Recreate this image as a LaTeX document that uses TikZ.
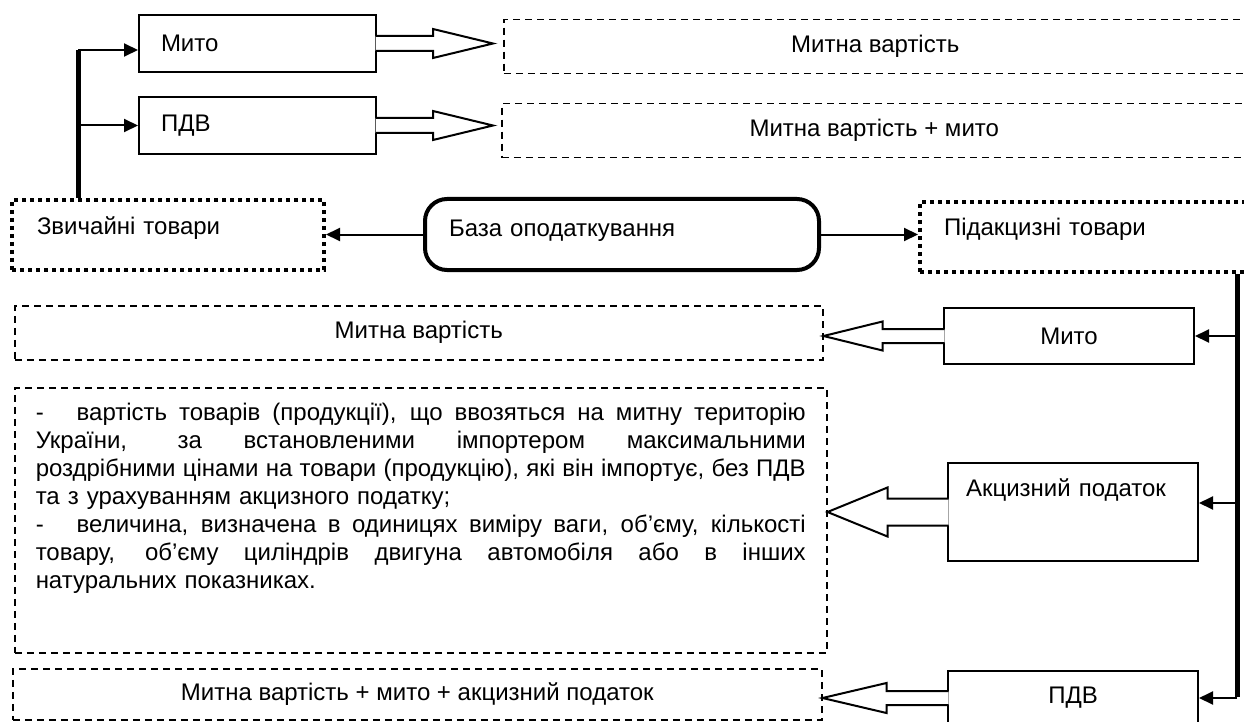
\documentclass[tikz,border=0pt]{standalone}
\usepackage{fontspec}
\setmainfont{Liberation Sans}
\usetikzlibrary{arrows.meta,calc}

\tikzset{
  every node/.style={font=\fontsize{24pt}{28pt}\selectfont, inner sep=0pt, anchor=north west},
  plainbox/.style={draw, line width=2pt},
  dashbox/.style={draw, line width=1.5pt, dash pattern=on 7pt off 5pt},
  dotbox/.style={draw, line width=4pt, dash pattern=on 4pt off 4pt},
  basebox/.style={draw, line width=4pt, rounded corners=22pt},
  link/.style={line width=2pt, -{Triangle[length=14pt,width=13pt]}},
  bar/.style={line width=5pt},
  hollow/.style={draw, fill=white, line width=2pt, line join=miter},
}

% #1 start, #2 tip, #3 half shaft, #4 half head, #5 head length, #6 overlap
\newcommand{\fatarrow}[6]{%
  \filldraw[hollow] ($(#1)+(#6,-#3)$) -- ($(#2)+(#5,-#3)$) -- ($(#2)+(#5,-#4)$) -- (#2)
    -- ($(#2)+(#5,#4)$) -- ($(#2)+(#5,#3)$) -- ($(#1)+(#6,#3)$);}
% justified line of the long text
\newcommand{\jline}[1]{\noindent\hbox to 770pt{\spaceskip=.278em plus 1fil minus .1em\xspaceskip=\spaceskip\relax #1}\par}

\begin{document}
\begin{tikzpicture}[x=1pt,y=-1pt]
  \useasboundingbox (0,0) rectangle (1244,722);
  \clip (0,0) rectangle (1244,722);

  % upper part
  \node[plainbox, minimum width=237pt, minimum height=57pt, text width=193pt, inner xsep=22pt, align=left] (mito1) at (138,14) {Мито};
  \node[plainbox, minimum width=237pt, minimum height=57pt, text width=193pt, inner xsep=22pt, align=left] (pdv1) at (138,96) {ПДВ};
  \node[dashbox, minimum width=743pt, minimum height=54pt] (mv1) at (503,19) {Митна вартість};
  \node[dashbox, minimum width=745pt, minimum height=54pt] (mv2) at (501,103) {Митна вартість + мито};

  \node[dotbox, minimum width=312pt, minimum height=70pt, text width=262pt, inner xsep=25pt, inner ysep=18pt,
    text height=16pt, text depth=18pt, align=left] (zvych) at (10,198) {Звичайні товари};
  \node[basebox, minimum width=394pt, minimum height=71pt, text width=346pt, inner xsep=24pt, inner ysep=20pt,
    text height=16pt, text depth=12pt, align=left] (baza) at (423,197) {База оподаткування};
  \node[dotbox, minimum width=332pt, minimum height=70pt, text width=284pt, inner xsep=24pt, inner ysep=17pt,
    text height=16pt, text depth=20pt, align=left] (pidakc) at (918,200) {Підакцизні товари};

  % lower part
  \node[dashbox, minimum width=808pt, minimum height=54pt] (mv3) at (14,305) {Митна вартість};
  \node[plainbox, minimum width=250pt, minimum height=56pt] (mito2) at (943,307) {Мито};
  \node[dashbox, minimum width=812pt, minimum height=265pt, text width=770pt, inner xsep=21pt, inner ysep=15pt] (txt) at (14,387) {%
    \parindent=0pt\leftskip=0pt\rightskip=0pt plus 1fil
    \jline{-\kern33pt вартість товарів (продукції), що ввозяться на митну територію}
    \jline{України, за встановленими імпортером максимальними}
    \jline{роздрібними цінами на товари (продукцію), які він імпортує, без ПДВ}
    та з урахуванням акцизного податку;\par
    \jline{-\kern33pt величина, визначена в одиницях виміру ваги, об’єму, кількості}
    \jline{товару, об’єму циліндрів двигуна автомобіля або в інших}
    натуральних показниках.\par\kern44pt};
  \node[plainbox, minimum width=250pt, minimum height=98pt, text width=214pt, inner xsep=18pt, inner ysep=17pt,
    text height=16pt, text depth=48pt, align=left] (akc) at (947,462) {Акцизний податок};
  \node[dashbox, minimum width=809pt, minimum height=51pt] (mv4) at (12,668) {Митна вартість + мито + акцизний податок};
  \node[plainbox, minimum width=250pt, minimum height=54pt] (pdv2) at (947,670) {ПДВ};

  % left branch
  \coordinate (lbar) at (78,50);
  \draw[bar] (zvych.north -| lbar) -- (lbar);
  \draw[link] (lbar) -- (lbar -| mito1.west);
  \draw[link] (lbar |- pdv1.west) -- (pdv1.west);
  \draw[link] (baza.west) -- (baza.west -| zvych.east);
  \draw[link] (baza.east) -- (baza.east -| pidakc.west);

  % right branch
  \coordinate (rbar) at (1237,697);
  \draw[bar] (rbar |- pidakc.south) -- (rbar);
  \draw[link] (rbar |- mito2.east) -- (mito2.east);
  \draw[link] ($(akc.east -| rbar)+(0,-9)$) -- ($(akc.east)+(0,-9)$);
  \draw[link] (rbar |- pdv2.east) -- (pdv2.east);

  % hollow arrows
  \coordinate (tip1) at ($(mito1.east -| mv1.west)+(-10,0)$);
  \coordinate (tip2) at ($(pdv1.east -| mv2.west)+(-8,0)$);
  \coordinate (tip3) at (mito2.west -| mv3.east);
  \coordinate (tip4) at (akc.west -| txt.east);
  \coordinate (tip5) at (pdv2.west -| mv4.east);
  \fatarrow{mito1.east}{tip1}{7.5}{14.5}{-60}{-1.5}
  \fatarrow{pdv1.east}{tip2}{7.5}{14.5}{-60}{-1.5}
  \fatarrow{mito2.west}{tip3}{7}{14.5}{59}{1.5}
  \fatarrow{akc.west}{tip4}{13.5}{24.5}{60}{1.5}
  \fatarrow{pdv2.west}{tip5}{7}{15}{64}{1.5}
\end{tikzpicture}
\end{document}
